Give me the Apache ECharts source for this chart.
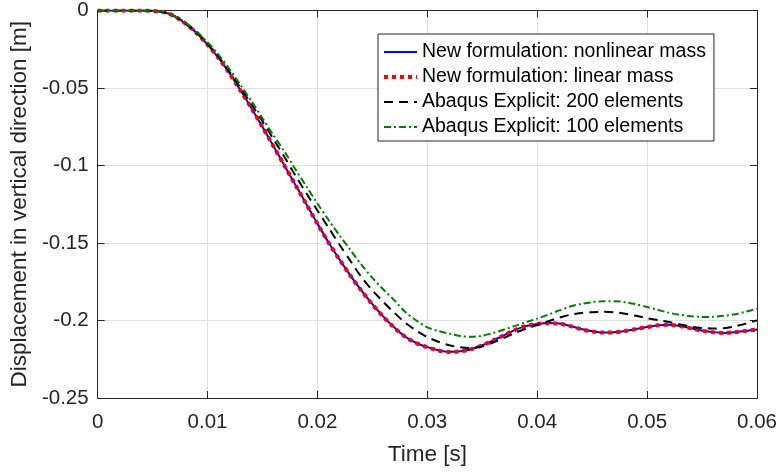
<!DOCTYPE html>
<html>
<head>
<meta charset="utf-8">
<script src="https://cdn.jsdelivr.net/npm/echarts@6/dist/echarts.min.js"></script>
<style>
  html, body { margin: 0; padding: 0; background: #fff; }
  #chart { width: 781px; height: 472px; }
</style>
</head>
<body>
<div id="chart"></div>
<script>
// time samples [s]
const timeS = [
  0, 0.001, 0.002, 0.003, 0.004, 0.005, 0.006, 0.007, 0.008, 0.009,
  0.010, 0.011, 0.012, 0.013, 0.014, 0.015, 0.016, 0.017, 0.018, 0.019,
  0.020, 0.021, 0.022, 0.023, 0.024, 0.025, 0.026, 0.027, 0.028, 0.029,
  0.030, 0.031, 0.032, 0.033, 0.034, 0.035, 0.036, 0.037, 0.038, 0.039,
  0.040, 0.041, 0.042, 0.043, 0.044, 0.045, 0.046, 0.047, 0.048, 0.049,
  0.050, 0.051, 0.052, 0.053, 0.054, 0.055, 0.056, 0.057, 0.058, 0.059,
  0.060
];

// vertical displacement [m]
const nonlinearMass = [
  0, 0, 0, 0, 0, -0.0002, -0.0010, -0.0038, -0.0085, -0.0145,
  -0.0220, -0.0305, -0.0405, -0.0515, -0.0630, -0.0750, -0.0875, -0.1000, -0.1125, -0.1250,
  -0.1375, -0.1495, -0.1605, -0.1710, -0.1806, -0.1895, -0.1975, -0.2045, -0.2105, -0.2145,
  -0.2172, -0.2192, -0.2202, -0.2198, -0.2185, -0.2160, -0.2128, -0.2095, -0.2060, -0.2035,
  -0.2022, -0.2016, -0.2020, -0.2035, -0.2055, -0.2070, -0.2078, -0.2076, -0.2068, -0.2055,
  -0.2042, -0.2030, -0.2027, -0.2035, -0.2050, -0.2065, -0.2075, -0.2080, -0.2076, -0.2067,
  -0.2058
];

const linearMass = [
  0, 0, 0, 0, 0, -0.0002, -0.0010, -0.0038, -0.0085, -0.0146,
  -0.0221, -0.0306, -0.0406, -0.0516, -0.0631, -0.0751, -0.0876, -0.1001, -0.1126, -0.1251,
  -0.1376, -0.1496, -0.1606, -0.1711, -0.1807, -0.1896, -0.1976, -0.2046, -0.2105, -0.2146,
  -0.2173, -0.2193, -0.2203, -0.2199, -0.2185, -0.2160, -0.2128, -0.2094, -0.2060, -0.2035,
  -0.2022, -0.2017, -0.2021, -0.2036, -0.2056, -0.2071, -0.2078, -0.2076, -0.2068, -0.2055,
  -0.2042, -0.2031, -0.2028, -0.2036, -0.2051, -0.2066, -0.2076, -0.2080, -0.2076, -0.2067,
  -0.2058
];

const abaqus200 = [
  0, 0, 0, 0, 0, -0.0002, -0.0010, -0.0037, -0.0083, -0.0142,
  -0.0215, -0.0298, -0.0395, -0.0500, -0.0605, -0.0715, -0.0830, -0.0945, -0.1065, -0.1180,
  -0.1290, -0.1400, -0.1510, -0.1615, -0.1720, -0.1805, -0.1880, -0.1950, -0.2015, -0.2065,
  -0.2107, -0.2137, -0.2160, -0.2173, -0.2178, -0.2167, -0.2142, -0.2112, -0.2080, -0.2052,
  -0.2030, -0.2005, -0.1982, -0.1963, -0.1952, -0.1946, -0.1944, -0.1947, -0.1956, -0.1970,
  -0.1985, -0.1998, -0.2010, -0.2025, -0.2040, -0.2048, -0.2052, -0.2050, -0.2038, -0.2020,
  -0.1999
];

const abaqus100 = [
  0, 0, 0, 0, 0, -0.0002, -0.0009, -0.0035, -0.0078, -0.0135,
  -0.0205, -0.0285, -0.0378, -0.0480, -0.0585, -0.0695, -0.0805, -0.0910, -0.1025, -0.1135,
  -0.1245, -0.1350, -0.1450, -0.1545, -0.1640, -0.1725, -0.1800, -0.1870, -0.1945, -0.2000,
  -0.2044, -0.2068, -0.2085, -0.2100, -0.2105, -0.2098, -0.2080, -0.2058, -0.2035, -0.2010,
  -0.1988, -0.1962, -0.1935, -0.1910, -0.1893, -0.1882, -0.1876, -0.1875, -0.1882, -0.1895,
  -0.1913, -0.1932, -0.1950, -0.1963, -0.1972, -0.1977, -0.1976, -0.1970, -0.1960, -0.1943,
  -0.1924
];

const seriesNames = [
  'New formulation: nonlinear mass',
  'New formulation: linear mass',
  'Abaqus Explicit: 200 elements',
  'Abaqus Explicit: 100 elements'
];

const xTicks = { min: 0, max: 0.06, interval: 0.01 };
const yTicks = { min: -0.25, max: 0, interval: 0.05 };

const FONT = '"Liberation Sans", Arial, sans-serif';
const AXIS_COLOR = '#262626';
const GRID_COLOR = '#dfdfdf';

// line looks, shared by the series and their legend samples
const lineLooks = [
  { color: '#0000ff', width: 2, type: 'solid' },
  { color: '#ff0000', width: 4, type: [4, 4] },
  { color: '#000000', width: 2, type: [9, 6] },
  { color: '#008000', width: 2, type: [7, 3, 2, 3] }
];

function pairs(values) {
  return values.map((v, i) => [timeS[i], v]);
}

function fmt(v) {
  return String(+v.toFixed(3));
}

const chart = echarts.init(document.getElementById('chart'), null, { renderer: 'canvas' });

// shared look for the box axes (MATLAB style, ticks pointing inward)
function boxAxis(extra) {
  return Object.assign({
    type: 'value',
    axisLine: { show: true, onZero: false, lineStyle: { color: AXIS_COLOR, width: 1 } },
    axisTick: { show: true, inside: true, length: 7, lineStyle: { color: AXIS_COLOR, width: 1 } },
    splitLine: { show: false },
    axisLabel: { show: false }
  }, extra);
}

const valueArrays = [nonlinearMass, linearMass, abaqus200, abaqus100];

const option = {
  animation: false,
  backgroundColor: '#ffffff',
  textStyle: { fontFamily: FONT },
  grid: { left: 96, right: 24, top: 9, bottom: 74 },
  legend: {
    orient: 'vertical',
    left: 378,
    top: 34,
    data: seriesNames.map((name, i) => ({ name, lineStyle: Object.assign({}, lineLooks[i]) })),
    backgroundColor: '#ffffff',
    borderColor: AXIS_COLOR,
    borderWidth: 1,
    borderRadius: 0,
    padding: [8, 8, 4, 4],
    itemWidth: 33,
    itemHeight: 14,
    itemGap: 5,
    itemStyle: { opacity: 0 },   // line sample only, no marker
    textStyle: { fontFamily: FONT, fontSize: 19.5, color: '#000', lineHeight: 20 }
  },
  xAxis: [
    boxAxis({
      position: 'bottom',
      min: xTicks.min, max: xTicks.max, interval: xTicks.interval,
      name: 'Time [s]',
      nameLocation: 'middle',
      nameGap: 45,
      nameTextStyle: { fontFamily: FONT, fontSize: 22.5, color: AXIS_COLOR },
      splitLine: { show: true, lineStyle: { color: GRID_COLOR, width: 1 } },
      axisLabel: { show: true, margin: 14, fontFamily: FONT, fontSize: 20.5, color: AXIS_COLOR, formatter: fmt }
    }),
    boxAxis({ position: 'top', min: xTicks.min, max: xTicks.max, interval: xTicks.interval })
  ],
  yAxis: [
    boxAxis({
      position: 'left',
      min: yTicks.min, max: yTicks.max, interval: yTicks.interval,
      name: 'Displacement in vertical direction [m]',
      nameLocation: 'middle',
      nameGap: 59,
      nameTextStyle: { fontFamily: FONT, fontSize: 22.5, color: AXIS_COLOR },
      splitLine: { show: true, lineStyle: { color: GRID_COLOR, width: 1 } },
      axisLabel: { show: true, margin: 9, fontFamily: FONT, fontSize: 20.5, color: AXIS_COLOR, formatter: fmt }
    }),
    boxAxis({ position: 'right', min: yTicks.min, max: yTicks.max, interval: yTicks.interval })
  ],
  series: seriesNames.map((name, i) => ({
    name,
    type: 'line',
    data: pairs(valueArrays[i]),
    symbol: 'none',
    smooth: 0.3,
    itemStyle: { color: lineLooks[i].color },
    lineStyle: Object.assign({}, lineLooks[i])
  }))
};

chart.setOption(option);
</script>
</body>
</html>
